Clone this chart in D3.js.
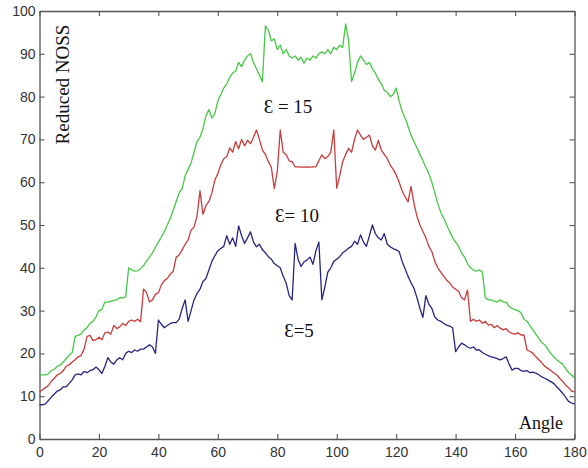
<!DOCTYPE html>
<html>
<head>
<meta charset="utf-8">
<script src="https://cdn.jsdelivr.net/npm/d3@7"></script>
<style>
  html, body { margin: 0; padding: 0; background: #fff; }
  svg { display: block; }
</style>
</head>
<body>
<svg id="chart" width="588" height="468"></svg>
<script>
// Reduced NOSS versus angle (0..180 deg, 1 deg steps) for three epsilon values
const angles = d3.range(0, 181);

const eps15 = [
  15, 15, 15, 15.2, 16, 16.3, 17, 17.3, 18, 18.8,
  19.6, 20.2, 24, 24.2, 24.5, 25.5, 26, 27, 27.5, 28.5,
  30, 30.3, 32, 32, 32.2, 32.4, 32.5, 33, 33, 33.2,
  40, 39.5, 39.2, 39.3, 39.8, 40.5, 41.5, 42.5, 43.5, 44.8,
  46, 47.2, 48.5, 50, 51.5, 53.5, 55.5, 57.5, 58.5, 61.5,
  63, 64.5, 67, 69.5, 70.5, 72.5, 75.5, 77, 75, 76,
  79, 80.5, 82, 83, 84.5, 85.5, 86, 88, 87, 88.5,
  89.5, 90, 88, 86.5, 85, 83.5, 96.5, 95.5, 93, 93.5,
  91, 92, 90, 91, 89.5, 89, 89.5, 88.5, 89.2, 87.8,
  89, 88.5, 89.5, 89, 90, 90.5, 90, 91, 90, 91.5,
  91, 92, 91.5, 97, 93, 83.5, 85.5, 88, 89.5, 88.5,
  87.5, 88, 86.5, 85.5, 84, 83, 81.5, 81, 80, 80.5,
  82, 79, 76.5, 75, 73, 71, 69.5, 68, 66.5, 65,
  63.5, 62, 60, 57.5, 55, 53, 51.5, 50, 48.5, 47,
  46, 45, 43.5, 42.5, 41, 40, 39.5, 39.2, 39.5, 39,
  33, 32.5, 32.5, 32.2, 32, 32.5, 32, 32, 31, 30.5,
  30.2, 30, 29.5, 28, 27.5, 26.5, 25.5, 24.5, 23.5, 22.5,
  22, 21, 20, 19.2, 18.5, 18, 17.5, 16.5, 15.5, 15,
  14.2
];

const eps10 = [
  11, 11.5, 12, 12.5, 13.5, 14.2, 15, 15.3, 16, 17,
  17.3, 18, 18.5, 19.2, 19.5, 21, 24, 24.2, 23, 23.2,
  23.8, 23.2, 24.8, 25, 24.5, 26.5, 25.8, 26.2, 27, 26.5,
  27.5, 27.8, 27.5, 28, 27.4, 35, 34.2, 32, 32.5, 33.8,
  34.2, 36, 37, 37.5, 38.5, 39.2, 42.5, 43, 44.2, 45.5,
  46.5, 48.8, 49.5, 52, 58, 52.5, 54.5, 55.5, 57.5, 60.5,
  62, 64, 65.5, 66, 68, 67, 69.5, 67.8, 70, 68.5,
  69.8, 69, 70.5, 72.2, 70, 67.5, 66.5, 64.8, 63.5, 58.5,
  62.5, 72.2, 67, 66.4, 65, 64.8, 63.6, 63.6, 63.5, 63.5,
  63.6, 63.5, 63.6, 63.6, 65, 66.4, 65.5, 66, 67, 72.2,
  58.6, 61.5, 64.8, 66.5, 67.9, 67, 70, 72.2, 71, 70,
  70.5, 71, 68.5, 67.5, 69.8, 67.5, 66.5, 65.5, 64, 63,
  61.7, 60, 58, 56.6, 55.4, 59, 55, 52, 50, 48.5,
  47, 45, 43.8, 41.5, 40, 39, 38, 37.1, 36.5, 35.5,
  35, 34.5, 33, 32.5, 34.8, 27.5, 28, 27.5, 27.8, 27,
  27.5, 26.6, 26.8, 26, 26.5, 25.9, 25.5, 25.8, 25, 24.7,
  24.5, 24.8, 24.3, 24.3, 20.8, 20.5, 20, 19.2, 18.5, 17.8,
  17, 16.5, 16, 15.5, 15, 14.2, 13.5, 12.6, 12, 11.2,
  11
];

const eps5 = [
  8, 8, 8.2, 9, 9.8, 10.5, 11.2, 11.5, 12.2, 12.2,
  13, 13.8, 15, 15.2, 15, 15.8, 15.5, 16, 16.2, 16.8,
  16.2, 15.3, 17, 19, 18, 17.5, 18.5, 19, 18.5, 20,
  20.5, 20.2, 20.8, 20.5, 21, 21, 21.5, 22, 21.5, 20,
  27.8, 26.8, 26, 26.5, 27, 27.2, 27.2, 28, 30.5, 32.5,
  27.5, 30, 32.5, 34, 35, 36.8, 37.5, 39.5, 41.5, 42.8,
  44, 44.5, 45, 47.5, 45.5, 47, 45, 49.8, 47.5, 45.7,
  47, 48.4, 46, 44.9, 45.5, 44.2, 43.5, 42.6, 42, 41,
  40.5, 40, 38, 36.4, 33.5, 32.5, 45.7, 42, 40.3, 41.4,
  41.8, 42.5, 40.8, 44, 46, 32.5, 35.5, 39, 40, 41.5,
  42, 42.6, 43.5, 44, 44.6, 45, 46.2, 45.5, 47.7, 46,
  45, 47.5, 50, 48, 47, 46.5, 48, 45.5, 44.9, 44.5,
  44.2, 43.8, 41.5, 39.8, 38, 36.5, 35.2, 33, 30.5, 28.4,
  33.5, 31.5, 30.5, 28.5, 27.8, 27.5, 27, 26.6, 26.4, 26,
  20.4, 21.5, 22.4, 22, 21.5, 21.2, 21.5, 20.8, 20.8, 20.2,
  19.8, 19.5, 19.2, 19, 18.8, 18.5, 18.8, 19.2, 17.5, 16.1,
  16.5, 16.5, 16, 15.8, 16, 15.5, 15.6, 15.4, 15, 14.5,
  14.2, 13.8, 13.4, 13, 12.2, 11.5, 10.7, 9.8, 8.8, 8.4,
  8.2
];

const xTicks = [0, 20, 40, 60, 80, 100, 120, 140, 160, 180];
const yTicks = [0, 10, 20, 30, 40, 50, 60, 70, 80, 90, 100];

const seriesList = [
  { values: eps15, color: "#46c846", label: "\u0190 = 15", lx: 288, ly: 113 },
  { values: eps10, color: "#c83c3c", label: "\u0190= 10", lx: 297, ly: 222 },
  { values: eps5,  color: "#262680", label: "\u0190=5",   lx: 299, ly: 337 }
];

const svg = d3.select("#chart");
const plotLeft = 39.5, plotRight = 574.5, plotTop = 11, plotBottom = 439;

const x = d3.scaleLinear().domain([0, 180]).range([plotLeft, plotRight]);
const y = d3.scaleLinear().domain([0, 100]).range([plotBottom, plotTop]);

const axisColor = "#555";
const tickFont = "Liberation Sans, Arial, sans-serif";

function styleAxis(g) {
  g.select(".domain").attr("stroke", axisColor).attr("stroke-width", 1.3);
  g.selectAll(".tick line").attr("stroke", axisColor).attr("stroke-width", 1.1);
  g.selectAll(".tick text")
    .attr("fill", "#333")
    .style("font-family", tickFont)
    .style("font-size", "14px");
}

// bottom axis with labels, ticks pointing inward
svg.append("g")
  .attr("transform", `translate(0,${plotBottom})`)
  .call(d3.axisBottom(x).tickValues(xTicks).tickSizeInner(-5).tickSizeOuter(0).tickPadding(8))
  .call(styleAxis);

// left axis with labels
svg.append("g")
  .attr("transform", `translate(${plotLeft},0)`)
  .call(d3.axisLeft(y).tickValues(yTicks).tickSizeInner(-5).tickSizeOuter(0).tickPadding(4))
  .call(styleAxis);

// top and right frame edges with mirrored ticks, no labels
svg.append("g")
  .attr("transform", `translate(0,${plotTop})`)
  .call(d3.axisTop(x).tickValues(xTicks).tickSizeInner(-5).tickSizeOuter(0).tickFormat(""))
  .call(styleAxis);

svg.append("g")
  .attr("transform", `translate(${plotRight},0)`)
  .call(d3.axisRight(y).tickValues(yTicks).tickSizeInner(-5).tickSizeOuter(0).tickFormat(""))
  .call(styleAxis);

// curves
const line = d3.line()
  .x((d, i) => x(angles[i]))
  .y(d => y(d));

seriesList.forEach(s => {
  svg.append("path")
    .datum(s.values)
    .attr("fill", "none")
    .attr("stroke", s.color)
    .attr("stroke-width", 1.3)
    .attr("stroke-linejoin", "round")
    .attr("d", line);

  svg.append("text")
    .attr("x", s.lx)
    .attr("y", s.ly)
    .attr("text-anchor", "middle")
    .attr("fill", "#111")
    .style("font-family", "Liberation Serif, Times New Roman, serif")
    .style("font-size", "19px")
    .text(s.label);
});

// axis titles
svg.append("text")
  .attr("transform", `translate(69,84.5) rotate(-90)`)
  .attr("text-anchor", "middle")
  .attr("fill", "#111")
  .style("font-family", "Liberation Serif, Times New Roman, serif")
  .style("font-size", "19px")
  .text("Reduced NOSS");

svg.append("text")
  .attr("x", 563)
  .attr("y", 429)
  .attr("text-anchor", "end")
  .attr("fill", "#111")
  .style("font-family", "Liberation Serif, Times New Roman, serif")
  .style("font-size", "18px")
  .text("Angle");
</script>
</body>
</html>
